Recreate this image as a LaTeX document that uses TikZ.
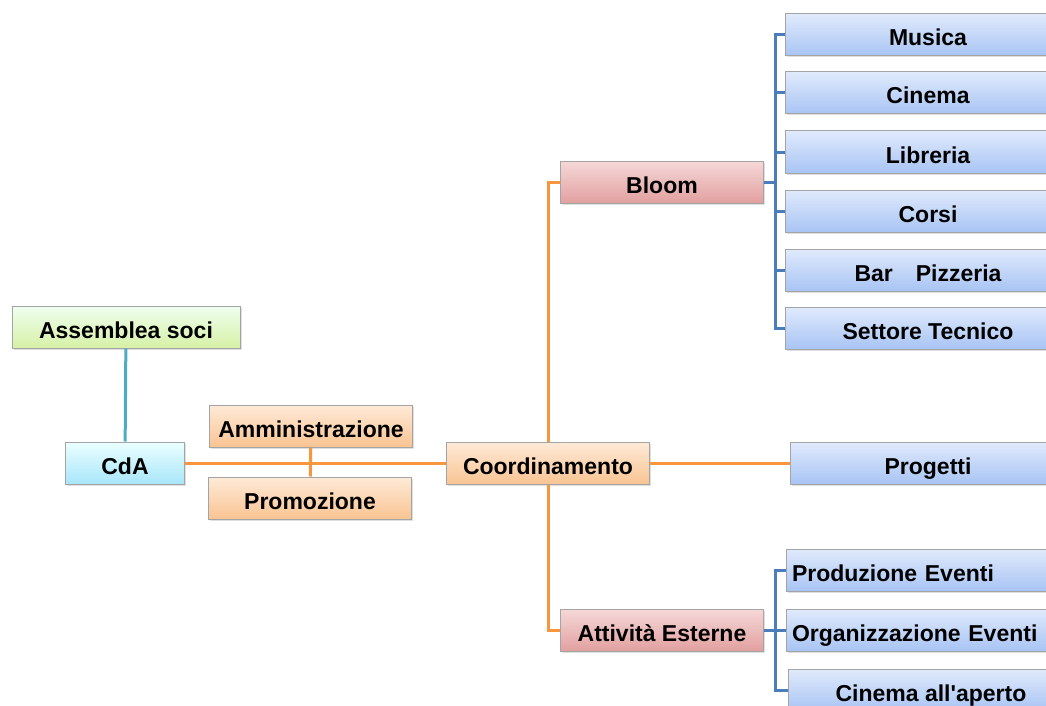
\documentclass[tikz,border=0pt]{standalone}
\usepackage{fontspec}
\setmainfont{Liberation Sans}
\usetikzlibrary{shadows}

\definecolor{boxline}{HTML}{A4A4A4}
\definecolor{orangel}{HTML}{F7963C}
\definecolor{bluel}{HTML}{4A7EBB}
\definecolor{teall}{HTML}{4BACC6}

\tikzset{
  box/.style={draw=boxline, line width=1pt, minimum height=42pt, inner sep=3pt,
    text height=22pt, text depth=0pt,
    font=\fontsize{23}{27}\selectfont\bfseries,
    drop shadow={opacity=0.25, shadow xshift=1.5pt, shadow yshift=-1.5pt}},
  soci/.style={box, top color=green!6!white, bottom color={rgb,255:red,214;green,241;blue,166}},
  cda/.style={box, top color=cyan!8!white, bottom color={rgb,255:red,168;green,230;blue,250}},
  staff/.style={box, top color={rgb,255:red,254;green,234;blue,216}, bottom color={rgb,255:red,249;green,196;blue,146}},
  area/.style={box, top color={rgb,255:red,246;green,216;blue,216}, bottom color={rgb,255:red,226;green,160;blue,160}},
  unit/.style={box, top color={rgb,255:red,224;green,234;blue,252}, bottom color={rgb,255:red,168;green,196;blue,244}},
  orangelink/.style={orangel, line width=3pt},
  bluelink/.style={bluel, line width=3pt},
  teallink/.style={teall, line width=3pt}
}

\begin{document}
\begin{tikzpicture}[x=1pt,y=-1pt]
\useasboundingbox (0,0) rectangle (1046,706);
\clip (0,0) rectangle (1046,706);

% left part
\node[soci, minimum width=228pt] (soci) at (126,327) {Assemblea soci};
\node[cda, minimum width=119pt] (cda) at (125,463) {CdA};
\node[staff, minimum width=203pt] (ammin) at (311,426) {Amministrazione};
\node[staff, minimum width=203pt] (promo) at (310,498) {Promozione};
\node[staff, minimum width=203pt] (coord) at (548,463) {Coordinamento};

% areas
\node[area, minimum width=203pt] (bloom) at (662,182) {Bloom};
\node[area, minimum width=203pt] (attivita) at (662,630) {Attività Esterne};

% units
\node[unit, minimum width=286pt] (musica) at (928,35) {Musica};
\node[unit, minimum width=286pt] (cinema) at (928,93) {Cinema};
\node[unit, minimum width=286pt] (libreria) at (928,152) {Libreria};
\node[unit, minimum width=286pt] (corsi) at (928,211) {Corsi};
\node[unit, minimum width=286pt] (bar) at (928,270) {Bar\quad Pizzeria};
\node[unit, minimum width=286pt] (settore) at (928,328) {Settore Tecnico};
\node[unit, minimum width=276pt] (progetti) at (928,463) {Progetti};
\node[unit, text width=280pt, align=left, inner sep=6pt] (produzione) at (932,570) {Produzione Eventi};
\node[unit, text width=280pt, align=left, inner sep=6pt] (organizzazione) at (932,630) {Organizzazione Eventi};
\node[unit, minimum width=286pt] (aperto) at (931,690) {Cinema all\textquotesingle aperto};

\coordinate (bk1) at (775,182);
\coordinate (bk2) at (775,630);

% connectors
\draw[teallink] (soci) -- (cda);
\draw[orangelink] (cda) -- (coord);
\draw[orangelink] (ammin) -- (promo);
\draw[orangelink] (coord.north) |- (bloom.west);
\draw[orangelink] (coord.south) |- (attivita.west);
\draw[orangelink] (coord) -- (progetti);
\draw[bluelink] (bloom) -- (bk1);
\draw[bluelink] (attivita) -- (bk2);
\foreach \n in {musica,cinema,libreria,corsi,bar,settore}
  \draw[bluelink] (bk1) |- (\n.west);
\foreach \n in {produzione,organizzazione,aperto}
  \draw[bluelink] (bk2) |- (\n.west);
\end{tikzpicture}
\end{document}
